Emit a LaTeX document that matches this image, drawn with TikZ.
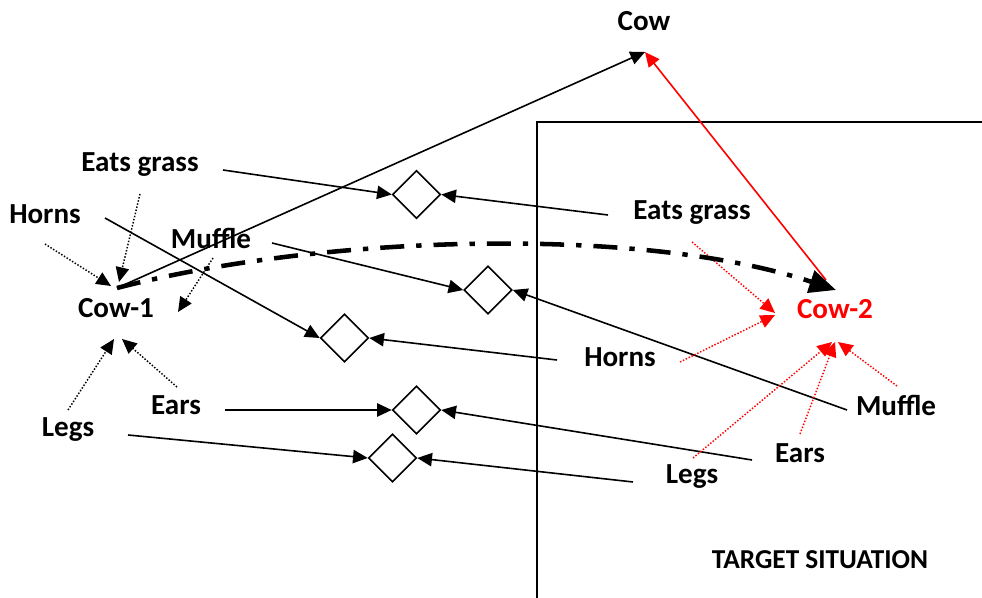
\documentclass[tikz,border=0pt]{standalone}
\usepackage{fontspec}
\setmainfont{Carlito}
\usetikzlibrary{arrows.meta,shapes.geometric}
\begin{document}
\begin{tikzpicture}[x=0.75pt,y=-0.75pt,
  lbl/.style={font=\bfseries\fontsize{21.8}{26}\selectfont, inner sep=0pt},
  tlbl/.style={font=\bfseries\fontsize{20.5}{24}\selectfont, inner sep=0pt},
  dia/.style={draw, diamond, line width=1.2pt, minimum width=36pt, minimum height=36pt, inner sep=0pt, aspect=1},
  conn/.style={line width=1.2pt, -{Triangle[length=11pt,width=10pt]}},
  dotconn/.style={line width=1.1pt, dash pattern=on 1.1pt off 1.3pt, -{Triangle[length=11pt,width=10pt]}},
  redconn/.style={red, line width=1.2pt, -{Triangle[length=11pt,width=10pt]}},
  reddot/.style={red, line width=1.1pt, dash pattern=on 1.1pt off 1.3pt, -{Triangle[length=11pt,width=10pt]}},
  dashdot/.style={line width=3.4pt, dash pattern=on 18pt off 9pt on 4pt off 9pt, -{Triangle[length=20pt,width=17pt]}},
  frame/.style={line width=1.2pt}
]
\useasboundingbox (0,0) rectangle (982,598);

% frame of target situation
\coordinate (fb) at (537,598);
\coordinate (fc) at (537,122);
\coordinate (fr) at (982,122);
\draw[frame] (fb) -- (fc) -- (fr);

% labels
\node[lbl] (cow) at (644,21) {Cow};
\node[lbl] (cowone) at (116,308) {Cow-1};
\node[lbl, text=red] (cowtwo) at (835,309) {Cow-2};
\node[lbl] (eatsL) at (140,165) {Eats grass};
\node[lbl] (hornsL) at (45,214) {Horns};
\node[lbl] (muffleL) at (211,238) {Muffle};
\node[lbl] (earsL) at (176,405) {Ears};
\node[lbl] (legsL) at (68,430) {Legs};
\node[lbl] (eatsR) at (692,213) {Eats grass};
\node[lbl] (hornsR) at (620,357) {Horns};
\node[lbl] (muffleR) at (896,405) {Muffle};
\node[lbl] (earsR) at (800,453) {Ears};
\node[lbl] (legsR) at (692,477) {Legs};
\node[tlbl] (target) at (820,560) {TARGET SITUATION};

% diamonds
\node[dia] (d1) at (416.5,194.5) {};
\node[dia] (d2) at (488,290) {};
\node[dia] (d3) at (344.5,338) {};
\node[dia] (d4) at (416.5,410) {};
\node[dia] (d5) at (392.5,458) {};

% line end points
\coordinate (eatsLe) at (223,170);
\coordinate (hornsLe) at (105,218);
\coordinate (muffleLe) at (272,243);
\coordinate (earsLe) at (225,410);
\coordinate (legsLe) at (128,435);
\coordinate (eatsRe) at (608,215);
\coordinate (hornsRe) at (557,360);
\coordinate (muffleRe) at (847,410);
\coordinate (earsRe) at (752,460);
\coordinate (legsRe) at (633,482);

\draw[conn] (eatsLe) -- (d1.west);
\draw[conn] (hornsLe) -- (d3.west);
\draw[conn] (muffleLe) -- (d2.west);
\draw[conn] (earsLe) -- (d4.west);
\draw[conn] (legsLe) -- (d5.west);
\draw[conn] (eatsRe) -- (d1.east);
\draw[conn] (hornsRe) -- (d3.east);
\draw[conn] (muffleRe) -- (d2.east);
\draw[conn] (earsRe) -- (d4.east);
\draw[conn] (legsRe) -- (d5.east);

% cow links
\coordinate (cowone top) at (117,288);
\coordinate (cow tip) at (645,52);
\coordinate (cowtwo top) at (836,290);
\coordinate (red start) at (826,280);
\draw[conn] (cowone top) -- (cow tip);
\draw[redconn] (red start) -- (cow tip);

% dotted attribute arrows to Cow-1
\coordinate (h1s) at (45,244);
\coordinate (h1t) at (111,286);
\coordinate (e1s) at (140,194);
\coordinate (e1t) at (119,282);
\coordinate (m1s) at (213,258);
\coordinate (m1t) at (178,312);
\coordinate (l1s) at (68,410);
\coordinate (l1t) at (114,339);
\coordinate (a1s) at (177,387);
\coordinate (a1t) at (122,339);
\draw[dotconn] (h1s) -- (h1t);
\draw[dotconn] (e1s) -- (e1t);
\draw[dotconn] (m1s) -- (m1t);
\draw[dotconn] (l1s) -- (l1t);
\draw[dotconn] (a1s) -- (a1t);

% red dotted attribute arrows to Cow-2
\coordinate (e2s) at (692,242);
\coordinate (e2t) at (775,313);
\coordinate (h2s) at (680,362);
\coordinate (h2t) at (775,315);
\coordinate (m2s) at (897,386);
\coordinate (m2t) at (838,342);
\coordinate (l2s) at (693,458);
\coordinate (l2t) at (832,342);
\coordinate (a2s) at (800,434);
\coordinate (a2t) at (835,342);
\draw[reddot] (e2s) -- (e2t);
\draw[reddot] (h2s) -- (h2t);
\draw[reddot] (m2s) -- (m2t);
\draw[reddot] (l2s) -- (l2t);
\draw[reddot] (a2s) -- (a2t);

% dash-dot mapping curve
\coordinate (c1) at (320,235);
\coordinate (c2) at (640,225);
\draw[dashdot] (cowone top) .. controls (c1) and (c2) .. (cowtwo top);
\end{tikzpicture}
\end{document}
